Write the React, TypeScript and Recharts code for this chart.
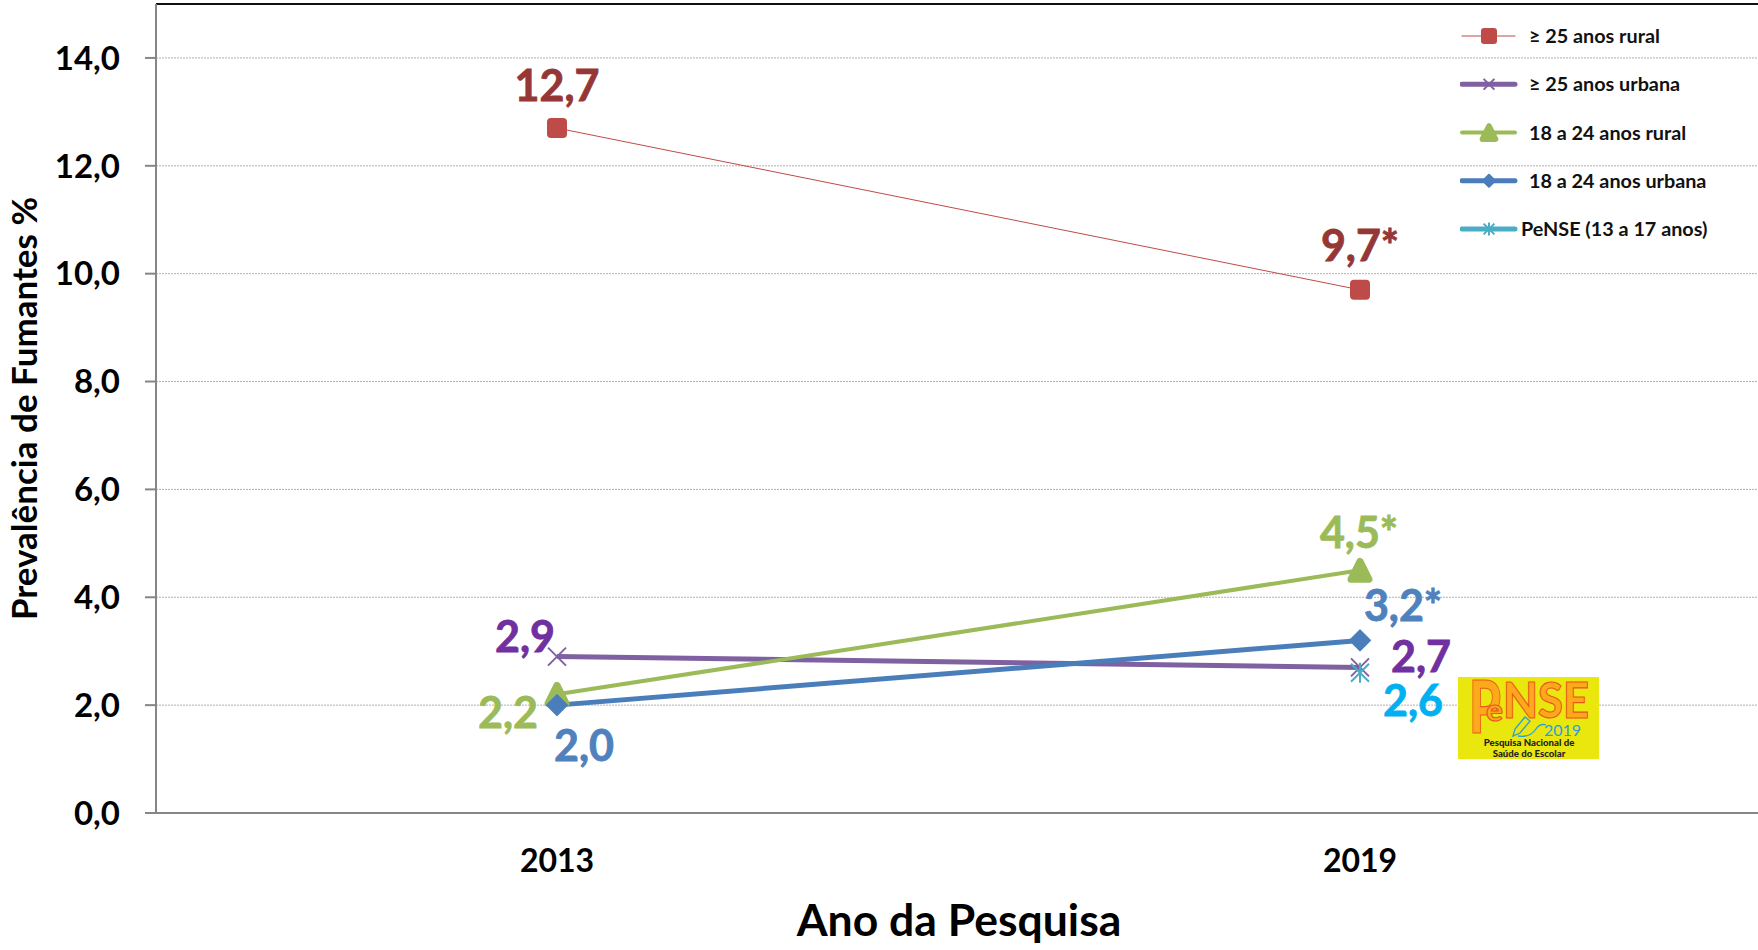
import { CartesianGrid, LabelList, Legend, Line, LineChart, ReferenceLine, XAxis, YAxis } from 'recharts';

const years = ['2013', '2019'];
const rural25 = [12.7, 9.7];
const urbana25 = [2.9, 2.7];
const rural18 = [2.2, 4.5];
const urbana18 = [2.0, 3.2];
const pense = [null, 2.6];
const yTicks = [0, 2, 4, 6, 8, 10, 12, 14];

const labelsRural25 = ['12,7', '9,7*'];
const labelsUrbana25 = ['2,9', '2,7'];
const labelsRural18 = ['2,2', '4,5*'];
const labelsUrbana18 = ['2,0', '3,2*'];
const labelsPense = ['', '2,6'];

const data = years.map((year, i) => ({
  year,
  rural25: rural25[i],
  urbana25: urbana25[i],
  rural18: rural18[i],
  urbana18: urbana18[i],
  pense: pense[i],
}));

const FONT = 'Lato, sans-serif';

// marcadores
function square(cx: number, cy: number, c: string, s = 1) {
  const r = 10 * s;
  return <rect x={cx - r} y={cy - r} width={r * 2} height={r * 2} rx={4 * s} fill={c} />;
}
function cross(cx: number, cy: number, c: string, s = 1) {
  const r = 9 * s;
  return (
    <g stroke={c} strokeWidth={2} fill="none">
      <line x1={cx - r} y1={cy - r} x2={cx + r} y2={cy + r} />
      <line x1={cx - r} y1={cy + r} x2={cx + r} y2={cy - r} />
    </g>
  );
}
function triangle(cx: number, cy: number, c: string, s = 1) {
  const w = 9 * s;
  const h = 9 * s;
  return (
    <path
      d={`M${cx} ${cy - h} L${cx + w} ${cy + h} L${cx - w} ${cy + h} Z`}
      fill={c}
      stroke={c}
      strokeWidth={7 * s}
      strokeLinejoin="round"
    />
  );
}
function diamond(cx: number, cy: number, c: string, s = 1) {
  const r = 10 * s;
  return (
    <path
      d={`M${cx} ${cy - r} L${cx + r} ${cy} L${cx} ${cy + r} L${cx - r} ${cy} Z`}
      fill={c}
      stroke={c}
      strokeWidth={2}
      strokeLinejoin="round"
    />
  );
}
function star(cx: number, cy: number, c: string, s = 1) {
  const r = 9 * s;
  return (
    <g stroke={c} strokeWidth={2} fill="none">
      <line x1={cx - r} y1={cy - r} x2={cx + r} y2={cy + r} />
      <line x1={cx - r} y1={cy + r} x2={cx + r} y2={cy - r} />
      <line x1={cx} y1={cy - r - 1} x2={cx} y2={cy + r + 1} />
    </g>
  );
}

const markers: Record<string, { draw: typeof square; scale: number }> = {
  '≥ 25 anos rural': { draw: square, scale: 0.8 },
  '≥ 25 anos urbana': { draw: cross, scale: 0.6 },
  '18 a 24 anos rural': { draw: triangle, scale: 0.75 },
  '18 a 24 anos urbana': { draw: diamond, scale: 0.6 },
  'PeNSE (13 a 17 anos)': { draw: star, scale: 0.6 },
};

const dotOf = (draw: typeof square, c: string) => (p: any) => {
  if (p.cy == null || p.value == null) return <g key={p.key} />;
  return <g key={p.key}>{draw(p.cx, p.cy, c)}</g>;
};

// rótulo com deslocamento próprio para cada ponto
const labelOf = (texts: string[], offsets: number[][], color: string) => (p: any) => {
  const text = texts[p.index];
  if (!text || p.y == null) return null;
  const [dx, dy] = offsets[p.index];
  return (
    <text
      x={p.x + dx}
      y={p.y + dy}
      fill={color}
      stroke={color}
      strokeWidth={0.8}
      fontFamily={FONT}
      fontWeight={700}
      fontSize={43}
      textAnchor="middle"
      dominantBaseline="central"
    >
      {text}
    </text>
  );
};

function LegendBox({ payload }: any) {
  return (
    <svg width={296} height={240} style={{ display: 'block' }}>
      {(payload || []).map((item: any, i: number) => {
        const y = 12 + i * 48.25;
        const m = markers[item.value];
        const last = item.value.startsWith('PeNSE');
        return (
          <g key={item.value}>
            <line
              x1={2}
              x2={55}
              y1={y}
              y2={y}
              stroke={item.color}
              strokeWidth={item.payload.strokeWidth}
              strokeLinecap="round"
            />
            {m.draw(29, y, item.color, m.scale)}
            <text
              x={last ? 61 : 69}
              y={y - 1}
              fontFamily={FONT}
              fontWeight={700}
              fontSize={19.8}
              fill="#111"
              dominantBaseline="central"
            >
              {item.value}
            </text>
          </g>
        );
      })}
    </svg>
  );
}

function Logo() {
  const letters = {
    fontFamily: FONT,
    fontWeight: 900,
    fill: '#FDA91B',
    stroke: '#E8581C',
    strokeWidth: 1.1,
    lengthAdjust: 'spacingAndGlyphs' as const,
  };
  return (
    <svg width={141} height={82} style={{ position: 'absolute', left: 1458, top: 677 }}>
      <rect width={141} height={82} fill="#EAE70F" />
      <text x={11} y={56} fontSize={72} textLength={32} {...letters}>
        P
      </text>
      <text x={28} y={44} fontSize={30} textLength={17} {...letters}>
        e
      </text>
      <text x={45} y={41} fontSize={49} textLength={86} {...letters}>
        NSE
      </text>
      <path d="M55 59 l2 -7 l10 -12 l5 4 l-10 12 Z" fill="none" stroke="#2B9FD8" strokeWidth={1.3} />
      <path d="M60 59 q12 2 18 -7 q4 -6 10 -4" fill="none" stroke="#2B9FD8" strokeWidth={1.3} />
      <text x={86} y={59} fontFamily={FONT} fontSize={16} fill="#2B9FD8" textLength={37} lengthAdjust="spacingAndGlyphs">
        2019
      </text>
      <text x={71} y={69} textAnchor="middle" fontFamily={FONT} fontWeight={900} fontSize={9.6} fill="#222">
        Pesquisa Nacional de
      </text>
      <text x={71} y={80} textAnchor="middle" fontFamily={FONT} fontWeight={900} fontSize={9.6} fill="#222">
        Saúde do Escolar
      </text>
    </svg>
  );
}

export default function App() {
  return (
    <div
      style={{
        position: 'absolute',
        left: 0,
        top: 0,
        width: 1758,
        height: 950,
        overflow: 'hidden',
        background: '#fff',
      }}
    >
      <LineChart width={1762} height={950} data={data} margin={{ top: 4, right: 0, bottom: 0, left: 0 }}>
        <CartesianGrid vertical={false} stroke="#b0b0b0" strokeDasharray="2 1" />
        <XAxis
          dataKey="year"
          height={137}
          padding={{ left: 401, right: 402 }}
          stroke="#868686"
          strokeWidth={2}
          tickLine={false}
          tickMargin={30}
          tick={{ fill: '#000', fontFamily: FONT, fontWeight: 700, fontSize: 32 }}
          label={{
            value: 'Ano da Pesquisa',
            position: 'insideBottom',
            offset: 14,
            style: { fill: '#000', fontFamily: FONT, fontWeight: 700, fontSize: 44.5 },
          }}
        />
        <YAxis
          width={156}
          domain={[0, 15]}
          ticks={yTicks}
          interval={0}
          stroke="#868686"
          strokeWidth={2}
          tickSize={11}
          tickMargin={25}
          tickFormatter={(v: number) => v.toFixed(1).replace('.', ',')}
          tick={{ fill: '#000', fontFamily: FONT, fontWeight: 700, fontSize: 33 }}
          label={{
            value: 'Prevalência de Fumantes %',
            angle: -90,
            position: 'insideLeft',
            offset: 25,
            style: { textAnchor: 'middle', fill: '#000', fontFamily: FONT, fontWeight: 700, fontSize: 35 },
          }}
        />
        <ReferenceLine y={15} stroke="#111" strokeWidth={2} />
        <Legend
          verticalAlign="middle"
          align="center"
          layout="vertical"
          itemSorter={null}
          content={<LegendBox />}
          wrapperStyle={{ position: 'absolute', left: 1460, top: 24, width: 296 }}
        />
        <Line
          name="≥ 25 anos rural"
          dataKey="rural25"
          stroke="#BE4B48"
          strokeWidth={1}
          dot={dotOf(square, '#BE4B48')}
          isAnimationActive={false}
        >
          <LabelList dataKey="rural25" content={labelOf(labelsRural25, [[0, -44], [0, -45]], '#953735')} />
        </Line>
        <Line
          name="≥ 25 anos urbana"
          dataKey="urbana25"
          stroke="#7F60A0"
          strokeWidth={5}
          dot={dotOf(cross, '#7F60A0')}
          isAnimationActive={false}
        >
          <LabelList dataKey="urbana25" content={labelOf(labelsUrbana25, [[-32, -21], [61, -12]], '#7030A0')} />
        </Line>
        <Line
          name="18 a 24 anos rural"
          dataKey="rural18"
          stroke="#9BBB59"
          strokeWidth={4}
          dot={dotOf(triangle, '#9BBB59')}
          isAnimationActive={false}
        >
          <LabelList dataKey="rural18" content={labelOf(labelsRural18, [[-49, 17], [-1, -39]], '#9BBB59')} />
        </Line>
        <Line
          name="18 a 24 anos urbana"
          dataKey="urbana18"
          stroke="#4A7EBB"
          strokeWidth={5}
          dot={dotOf(diamond, '#4A7EBB')}
          isAnimationActive={false}
        >
          <LabelList dataKey="urbana18" content={labelOf(labelsUrbana18, [[27, 39], [43, -36]], '#4F81BD')} />
        </Line>
        <Line
          name="PeNSE (13 a 17 anos)"
          dataKey="pense"
          stroke="#4BACC6"
          strokeWidth={5}
          dot={dotOf(star, '#4BACC6')}
          isAnimationActive={false}
        >
          <LabelList dataKey="pense" content={labelOf(labelsPense, [[0, 0], [53, 27]], '#00B0F0')} />
        </Line>
      </LineChart>
      <Logo />
    </div>
  );
}
